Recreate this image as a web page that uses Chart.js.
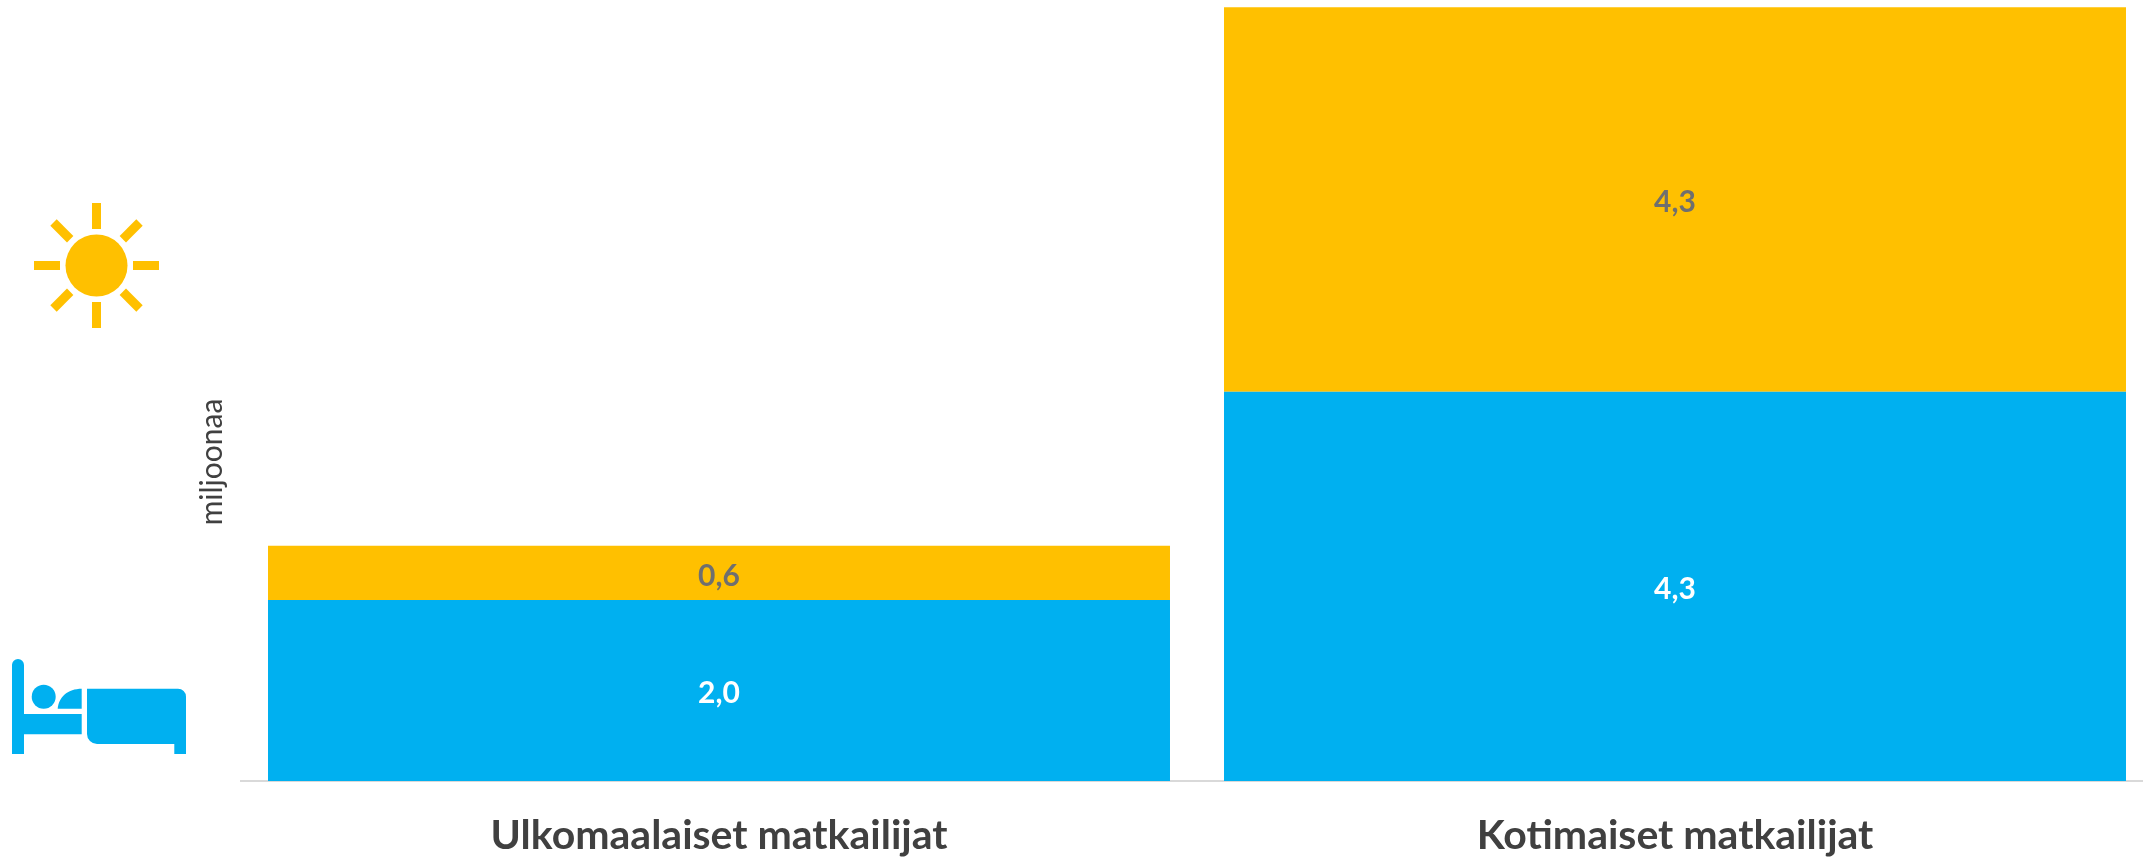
<!DOCTYPE html>
<html lang="fi">
<head>
<meta charset="utf-8">
<script src="https://cdn.jsdelivr.net/npm/chart.js@4"></script>
<style>
html,body{margin:0;padding:0;background:#fff;overflow:hidden;width:2143px;height:857px}
#wrap{position:absolute;left:0;top:0;width:2143px;height:857px;overflow:hidden}
canvas{position:absolute;left:0;top:0}
svg{position:absolute;left:0;top:0}
</style>
</head>
<body>
<div id="wrap">
<canvas id="c" width="2153" height="857"></canvas>
<svg width="260" height="857" viewBox="0 0 260 857">
  <g fill="#FFC000">
    <circle cx="96.5" cy="265.5" r="31"/>
    <g id="rays" stroke="#FFC000" stroke-width="9">
      <line x1="96.5" y1="203" x2="96.5" y2="229"/>
      <line x1="96.5" y1="302" x2="96.5" y2="328"/>
      <line x1="34" y1="265.5" x2="60" y2="265.5"/>
      <line x1="133" y1="265.5" x2="159" y2="265.5"/>
      <line x1="53.5" y1="222.5" x2="70.2" y2="239.2"/>
      <line x1="139.5" y1="222.5" x2="122.8" y2="239.2"/>
      <line x1="53.5" y1="308.5" x2="70.2" y2="291.8"/>
      <line x1="139.5" y1="308.5" x2="122.8" y2="291.8"/>
    </g>
  </g>
  <g fill="#00B0F0">
    <path d="M12 754V665a6 6 0 0 1 12 0V714H81.7V734.3H24V754Z"/>
    <circle cx="43.7" cy="696.7" r="12"/>
    <path d="M57.7 708.7C58.5 697 68 688.7 81.7 688.7V708.7Z"/>
    <path d="M87 688.7H178a8 8 0 0 1 8 8V754H174.3V744H97a10 10 0 0 1 -10 -10Z"/>
  </g>
</svg>
</div>
<script>
const categories = ["Ulkomaalaiset matkailijat", "Kotimaiset matkailijat"];
const overnight = [2.0, 4.3];
const daytrip = [0.6, 4.25];
const axisTitle = "miljoonaa";

const blue = "#00B0F0", amber = "#FFC000";

const labelPlugin = {
  id: "barLabels",
  afterDatasetsDraw(chart) {
    const ctx = chart.ctx;
    ctx.save();
    ctx.font = "700 30px Lato";
    ctx.textAlign = "center";
    ctx.textBaseline = "middle";
    chart.data.datasets.forEach((ds, i) => {
      chart.getDatasetMeta(i).data.forEach((bar, j) => {
        ctx.fillStyle = ds.labelColor;
        const p = bar.getProps(["x", "y", "base"], true);
        ctx.fillText(ds.data[j].toFixed(1).replace(".", ","), p.x, (p.y + p.base) / 2 + 3);
      });
    });
    ctx.restore();
  },
  afterDraw(chart) {
    const ctx = chart.ctx;
    ctx.save();
    ctx.translate(212, 462);
    ctx.rotate(-Math.PI / 2);
    ctx.font = "400 30px Lato";
    ctx.fillStyle = "#404040";
    ctx.textAlign = "center";
    ctx.textBaseline = "middle";
    ctx.fillText(axisTitle, 0, 0);
    ctx.restore();
  }
};

new Chart(document.getElementById("c"), {
  type: "bar",
  data: {
    labels: categories,
    datasets: [
      { label: "Yöpyvät", data: overnight, backgroundColor: blue, labelColor: "#FFFFFF", stack: "s" },
      { label: "Päivämatkat", data: daytrip, backgroundColor: amber, labelColor: "#6F6F6F", stack: "s" }
    ]
  },
  options: {
    responsive: false,
    animation: false,
    layout: { padding: { left: 241, right: 0, top: 0, bottom: 0 } },
    datasets: { bar: { barPercentage: 0.9435, categoryPercentage: 1 } },
    plugins: { legend: { display: false }, tooltip: { enabled: false } },
    scales: {
      x: {
        stacked: true,
        grid: { display: false },
        border: { color: "#D9D9D9", width: 2 },
        ticks: { color: "#404040", font: { family: "Lato", weight: "700", size: 41 }, padding: 22, maxRotation: 0 },
        afterFit(s) { s.height = 76; }
      },
      y: {
        stacked: true,
        display: false,
        min: 0,
        max: 8.63
      }
    }
  },
  plugins: [labelPlugin]
});
</script>
</body>
</html>
